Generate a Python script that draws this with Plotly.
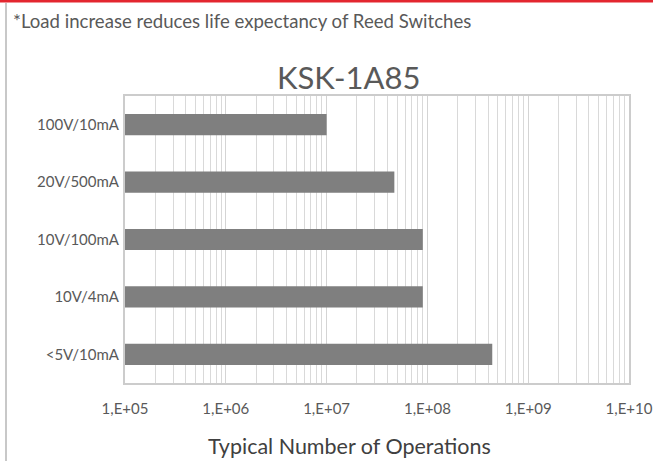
import plotly.graph_objects as go

# Data
categories = ["100V/10mA", "20V/500mA", "10V/100mA", "10V/4mA", "<5V/10mA"]
operations = [1.0e7, 4.7e7, 9.0e7, 9.0e7, 4.4e8]
tick_values = [1e5, 1e6, 1e7, 1e8, 1e9, 1e10]
tick_labels = ["1,E+05", "1,E+06", "1,E+07", "1,E+08", "1,E+09", "1,E+10"]
chart_title = "KSK-1A85"
x_title = "Typical Number of Operations"
note_text = "*Load increase reduces life expectancy of Reed Switches"

W, H = 653, 461
L, R, T, B = 125, 24, 96, 78
pw, ph = W - L - R, H - T - B

def px_x(x):
    return (x - L) / pw

def px_y(y):
    return (H - B - y) / ph

minor_vals = [m * d for d in tick_values[:-1] for m in range(2, 10)]

fig = go.Figure(go.Bar(
    y=categories, x=operations, orientation="h",
    marker=dict(color="#7f7f7f", line=dict(width=0)),
))

font_family = "Lato"
fig.update_layout(
    width=W, height=H,
    margin=dict(l=L, r=R, t=T, b=B, autoexpand=False),
    paper_bgcolor="white", plot_bgcolor="white",
    bargap=0.63,
    showlegend=False,
    font=dict(family=font_family, color="#595959"),
    xaxis=dict(
        type="log", range=[5, 10],
        tickvals=tick_values, ticktext=tick_labels,
        tickfont=dict(size=15, color="#595959"),
        showgrid=True, gridcolor="#d4d4d4", gridwidth=1,
        minor=dict(tickvals=minor_vals, showgrid=True, gridcolor="#d9d9d9", gridwidth=1),
        showline=True, linecolor="#cccccc", linewidth=2, mirror=True,
        ticks="", ticklabelstandoff=11, automargin=False,
        zeroline=False,
    ),
    yaxis=dict(
        categoryorder="array", categoryarray=categories[::-1],
        tickfont=dict(size=15, color="#595959"),
        showgrid=False,
        showline=True, linecolor="#cccccc", linewidth=2, mirror=True,
        ticks="", ticklabelstandoff=1, automargin=False,
    ),
    annotations=[
        dict(text=chart_title, xref="paper", yref="paper",
             x=px_x(348), y=px_y(77), xanchor="center", yanchor="middle",
             showarrow=False, font=dict(size=31, color="#595959", family=font_family)),
        dict(text=x_title, xref="paper", yref="paper",
             x=px_x(349), y=px_y(446), xanchor="center", yanchor="middle",
             showarrow=False, font=dict(size=21.5, color="#404040", family=font_family)),
        dict(text=note_text, xref="paper", yref="paper",
             x=px_x(11), y=px_y(21), xanchor="left", yanchor="middle",
             showarrow=False, font=dict(size=18.6, color="#595959", family=font_family)),
    ],
    shapes=[
        dict(type="rect", xref="paper", yref="paper",
             x0=px_x(0), x1=px_x(W), y0=px_y(0), y1=px_y(2.5),
             fillcolor="#e3262f", line=dict(width=0), layer="above"),
        dict(type="line", xref="paper", yref="paper",
             x0=px_x(6), x1=px_x(6), y0=px_y(3), y1=px_y(H),
             line=dict(color="#c8c8c8", width=2)),
    ],
)

fig.write_html(
    "out.html",
    config={"displayModeBar": False},
    post_script="document.body.style.margin='0';document.body.style.overflow='hidden';",
)
